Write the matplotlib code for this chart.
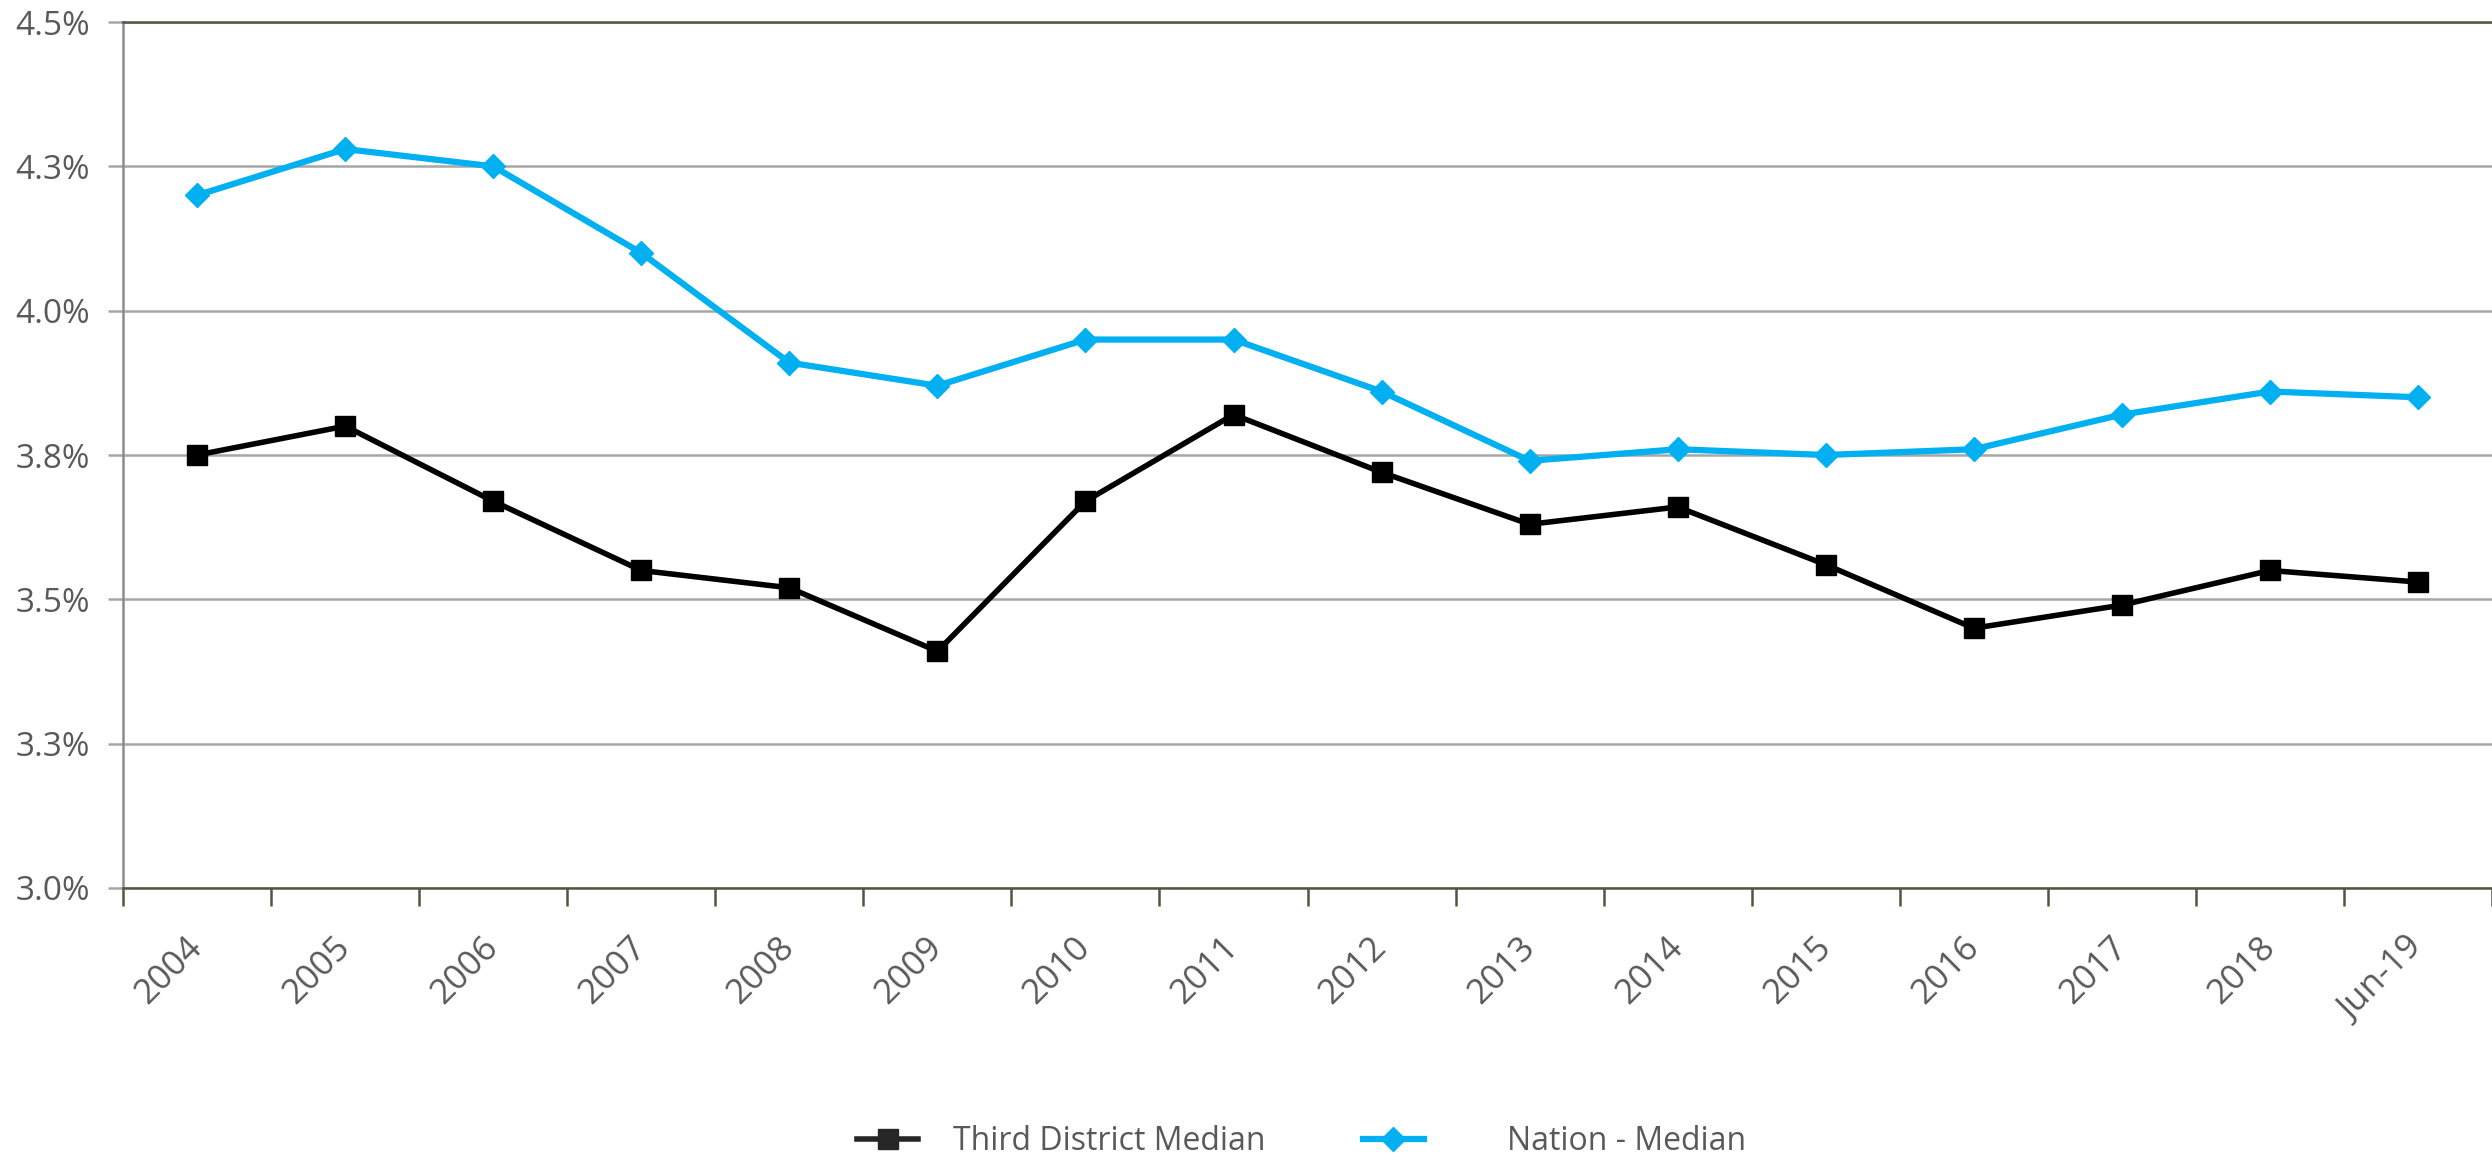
import numpy as np
import matplotlib
matplotlib.use("Agg")
import matplotlib.pyplot as plt
from matplotlib.lines import Line2D

plt.rcParams['font.family'] = ['Open Sans', 'DejaVu Sans']

annees = ["2004", "2005", "2006", "2007", "2008", "2009", "2010", "2011",
          "2012", "2013", "2014", "2015", "2016", "2017", "2018", "Jun-19"]
third_district = [3.75, 3.80, 3.67, 3.55, 3.52, 3.41, 3.67, 3.82,
                  3.72, 3.63, 3.66, 3.56, 3.45, 3.49, 3.55, 3.53]
nation = [4.20, 4.28, 4.25, 4.10, 3.91, 3.87, 3.95, 3.95,
          3.86, 3.74, 3.76, 3.75, 3.76, 3.82, 3.86, 3.85]
yticks = [3.0, 3.25, 3.5, 3.75, 4.0, 4.25, 4.5]
ytick_labels = ["3.0%", "3.3%", "3.5%", "3.8%", "4.0%", "4.3%", "4.5%"]

gris_texte = "#595959"
bleu = "#00B0F0"
olive = "#55553f"

fig = plt.figure(figsize=(24.92, 11.6), dpi=100)
ax = fig.add_axes([0.0494, 0.2345, 0.9506, 0.7465])

x = np.arange(len(annees))
ax.plot(x, third_district, color="black", linewidth=4.0, marker="s",
        markersize=15, zorder=3)
ax.plot(x, nation, color=bleu, linewidth=4.5, marker="D",
        markersize=12, zorder=4)

ax.set_xlim(-0.5, len(annees) - 0.5)
ax.set_ylim(3.0, 4.5)

# grille horizontale
ax.set_yticks(yticks)
ax.set_yticklabels(ytick_labels)
ax.yaxis.grid(True, color="#a6a6a6", linewidth=1.8, zorder=0)
ax.set_axisbelow(True)
ax.tick_params(axis="y", direction="out", length=11, width=1.8,
               color="#a6a6a6", pad=13, labelsize=24, labelcolor=gris_texte)

# axe des x : etiquettes au centre, traits aux frontieres
ax.set_xticks(x)
ax.set_xticklabels(annees, rotation=45, ha="right", va="center",
                   rotation_mode="anchor")
ax.set_xticks(np.arange(-0.5, len(annees), 1.0), minor=True)
ax.tick_params(axis="x", which="major", length=0, pad=39, labelsize=25,
               labelcolor=gris_texte)
ax.tick_params(axis="x", which="minor", direction="out", length=13,
               width=1.8, color=olive)

ax.spines["right"].set_visible(False)
ax.spines["left"].set_color("#8c8c8c")
ax.spines["left"].set_linewidth(1.8)
ax.spines["top"].set_color(olive)
ax.spines["top"].set_linewidth(1.8)
ax.spines["bottom"].set_color(olive)
ax.spines["bottom"].set_linewidth(1.8)

# legende en deux morceaux
h1 = Line2D([], [], color="#262626", linewidth=4.0, marker="s", markersize=15)
h2 = Line2D([], [], color=bleu, linewidth=4.5, marker="D", markersize=12)
fig.legend([h1], ["Third District Median"], loc="center left",
           bbox_to_anchor=(0.344, 0.016), frameon=False, fontsize=23,
           handlelength=1.9, handletextpad=1.1, borderpad=0, borderaxespad=0,
           labelcolor=gris_texte)
fig.legend([h2], ["Nation - Median"], loc="center left",
           bbox_to_anchor=(0.547, 0.016), frameon=False, fontsize=23,
           handlelength=1.9, handletextpad=2.6, borderpad=0, borderaxespad=0,
           labelcolor=gris_texte)

fig.savefig("out.png", dpi=100)
